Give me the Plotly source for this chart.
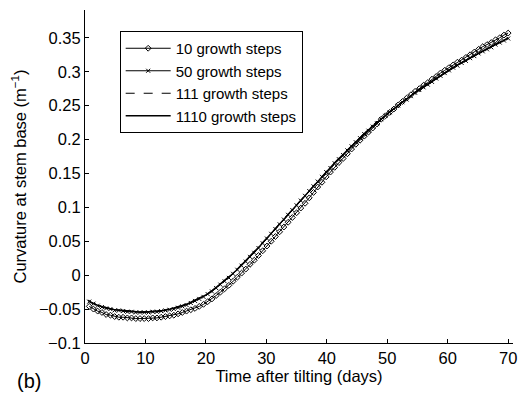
import plotly.graph_objects as go

# --- data ---
t_fine = [0.7, 1.4, 2.1, 2.8, 3.5, 4.2, 4.9, 5.6, 6.3, 7.0,
          7.7, 8.4, 9.1, 9.8, 10.5, 11.2, 11.9, 12.6, 13.3, 14.0,
          14.7, 15.4, 16.1, 16.8, 17.5, 18.2, 18.9, 19.6, 20.3, 21.0,
          21.7, 22.4, 23.1, 23.8, 24.5, 25.2, 25.9, 26.6, 27.3, 28.0,
          28.7, 29.4, 30.1, 30.8, 31.5, 32.2, 32.9, 33.6, 34.3, 35.0,
          35.7, 36.4, 37.1, 37.8, 38.5, 39.2, 39.9, 40.6, 41.3, 42.0,
          42.7, 43.4, 44.1, 44.8, 45.5, 46.2, 46.9, 47.6, 48.3, 49.0,
          49.7, 50.4, 51.1, 51.8, 52.5, 53.2, 53.9, 54.6, 55.3, 56.0,
          56.7, 57.4, 58.1, 58.8, 59.5, 60.2, 60.9, 61.6, 62.3, 63.0,
          63.7, 64.4, 65.1, 65.8, 66.5, 67.2, 67.9, 68.6, 69.3, 70.0]

steps10 = [-0.046, -0.050, -0.053, -0.055, -0.058, -0.059, -0.061, -0.062, -0.062, -0.063,
           -0.063, -0.064, -0.064, -0.064, -0.064, -0.063, -0.063, -0.062, -0.061, -0.060,
           -0.059, -0.057, -0.055, -0.053, -0.051, -0.049, -0.046, -0.043, -0.039, -0.035,
           -0.030, -0.025, -0.020, -0.015, -0.009, -0.003, 0.003, 0.009, 0.016, 0.022,
           0.029, 0.036, 0.043, 0.050, 0.057, 0.064, 0.071, 0.078, 0.085, 0.092,
           0.099, 0.106, 0.114, 0.122, 0.130, 0.137, 0.145, 0.152, 0.159, 0.166,
           0.172, 0.179, 0.186, 0.193, 0.199, 0.205, 0.211, 0.217, 0.223, 0.230,
           0.235, 0.240, 0.245, 0.251, 0.256, 0.261, 0.266, 0.271, 0.275, 0.280,
           0.284, 0.289, 0.293, 0.298, 0.302, 0.306, 0.310, 0.314, 0.317, 0.321,
           0.325, 0.329, 0.333, 0.337, 0.340, 0.343, 0.347, 0.350, 0.354, 0.357]

steps50 = [-0.039, -0.042, -0.045, -0.047, -0.049, -0.050, -0.052, -0.052, -0.053, -0.054,
           -0.054, -0.055, -0.055, -0.055, -0.055, -0.054, -0.054, -0.053, -0.052, -0.051,
           -0.050, -0.048, -0.046, -0.044, -0.041, -0.038, -0.035, -0.032, -0.028, -0.024,
           -0.019, -0.014, -0.009, -0.004, 0.002, 0.008, 0.014, 0.020, 0.027, 0.033,
           0.040, 0.047, 0.054, 0.061, 0.068, 0.075, 0.082, 0.089, 0.096, 0.103,
           0.110, 0.117, 0.124, 0.131, 0.138, 0.145, 0.152, 0.158, 0.165, 0.171,
           0.177, 0.184, 0.190, 0.196, 0.202, 0.208, 0.213, 0.219, 0.224, 0.230,
           0.235, 0.240, 0.245, 0.250, 0.255, 0.259, 0.264, 0.269, 0.273, 0.277,
           0.281, 0.285, 0.290, 0.294, 0.298, 0.302, 0.306, 0.309, 0.313, 0.316,
           0.320, 0.323, 0.327, 0.330, 0.333, 0.336, 0.340, 0.343, 0.346, 0.349]

t_line = [0.5, 1, 2, 3, 4, 5, 6, 7, 8, 9, 10, 11, 12, 13, 14, 15, 16, 17, 18, 19,
          20, 21, 22, 23, 24, 25, 26, 27, 28, 29, 30, 31, 32, 33, 34, 35, 36, 37, 38, 39,
          40, 41, 42, 43, 44, 45, 46, 47, 48, 49, 50, 51, 52, 53, 54, 55, 56, 57, 58, 59,
          60, 61, 62, 63, 64, 65, 66, 67, 68, 69, 70]

steps111 = [-0.037, -0.040, -0.044, -0.047, -0.049, -0.051, -0.052, -0.053, -0.0535, -0.054,
            -0.054, -0.0535, -0.053, -0.052, -0.050, -0.048, -0.045, -0.042, -0.038, -0.034,
            -0.029, -0.023, -0.016, -0.009, -0.001, 0.007, 0.016, 0.025, 0.034, 0.044,
            0.054, 0.064, 0.074, 0.084, 0.094, 0.104, 0.114, 0.124, 0.134, 0.144,
            0.154, 0.163, 0.172, 0.181, 0.190, 0.199, 0.207, 0.215, 0.223, 0.231,
            0.238, 0.245, 0.252, 0.259, 0.266, 0.272, 0.278, 0.284, 0.290, 0.296,
            0.302, 0.307, 0.312, 0.317, 0.322, 0.327, 0.332, 0.336, 0.341, 0.345, 0.350]

steps1110 = [-0.037, -0.040, -0.044, -0.047, -0.049, -0.051, -0.052, -0.053, -0.0535, -0.054,
             -0.054, -0.0535, -0.053, -0.052, -0.050, -0.048, -0.045, -0.042, -0.038, -0.034,
             -0.029, -0.023, -0.016, -0.009, -0.001, 0.007, 0.016, 0.025, 0.034, 0.044,
             0.054, 0.064, 0.074, 0.084, 0.094, 0.104, 0.114, 0.124, 0.134, 0.144,
             0.154, 0.163, 0.172, 0.181, 0.190, 0.199, 0.207, 0.215, 0.223, 0.231,
             0.238, 0.245, 0.252, 0.259, 0.266, 0.272, 0.278, 0.284, 0.290, 0.296,
             0.302, 0.307, 0.312, 0.317, 0.322, 0.327, 0.332, 0.336, 0.341, 0.345, 0.350]

series_names = ["10 growth steps", "50 growth steps", "111 growth steps", "1110 growth steps"]

x_tickvals = [0, 10, 20, 30, 40, 50, 60, 70]
x_ticktext = ["0", "10", "20", "30", "40", "50", "60", "70"]
y_tickvals = [-0.1, -0.05, 0, 0.05, 0.1, 0.15, 0.2, 0.25, 0.3, 0.35]
y_ticktext = ["\u22120.1", "\u22120.05", "0", "0.05", "0.1", "0.15", "0.2", "0.25", "0.3", "0.35"]

FONT = "Liberation Sans, Arial, sans-serif"

fig = go.Figure()
fig.add_trace(go.Scatter(
    x=t_fine, y=steps10, name=series_names[0], mode="lines+markers",
    line=dict(color="black", width=1),
    marker=dict(symbol="diamond-open", size=4.5, color="black", line=dict(width=1, color="black")),
))
fig.add_trace(go.Scatter(
    x=t_fine, y=steps50, name=series_names[1], mode="lines+markers",
    line=dict(color="black", width=1),
    marker=dict(symbol="x-thin-open", size=4, color="black", line=dict(width=1, color="black")),
))
fig.add_trace(go.Scatter(
    x=t_line, y=steps111, name=series_names[2], mode="lines",
    line=dict(color="black", width=1.2, dash="dash"),
))
fig.add_trace(go.Scatter(
    x=t_line, y=steps1110, name=series_names[3], mode="lines",
    line=dict(color="black", width=1.3),
))

fig.update_layout(
    width=523, height=394,
    margin=dict(l=85, r=6, t=10, b=51),
    paper_bgcolor="white", plot_bgcolor="white",
    font=dict(family=FONT, size=16.5, color="black"),
    showlegend=True,
    legend=dict(
        x=(120 - 85) / 432, y=(343 - 31) / 333, xanchor="left", yanchor="top",
        bordercolor="black", borderwidth=1, bgcolor="white",
        font=dict(family=FONT, size=15, color="black"),
        itemwidth=45, tracegroupgap=0,
    ),
    xaxis=dict(
        range=[0, 70.8], tickvals=x_tickvals, ticktext=x_ticktext,
        showline=True, linecolor="black", linewidth=1,
        ticks="inside", ticklen=4, tickcolor="black", tickwidth=1,
        showgrid=False, zeroline=False,
        title=dict(text="Time after tilting (days)", standoff=4, font=dict(size=16.5)),
    ),
    yaxis=dict(
        range=[-0.1, 0.391], tickvals=y_tickvals, ticktext=y_ticktext,
        showline=True, linecolor="black", linewidth=1,
        ticks="inside", ticklen=4, tickcolor="black", tickwidth=1,
        showgrid=False, zeroline=False,
        title=dict(text="Curvature at stem base (m<sup>\u22121</sup>)", standoff=8, font=dict(size=16.5)),
    ),
    annotations=[dict(
        text="(b)", xref="paper", yref="paper",
        x=(28 - 85) / 432, y=(343 - 381) / 333, xanchor="center", yanchor="middle",
        showarrow=False, font=dict(family=FONT, size=20, color="black"),
    )],
)

fig.write_html("out.html", config={"displayModeBar": False},
               post_script="document.body.style.margin='0';document.body.style.padding='0';")
